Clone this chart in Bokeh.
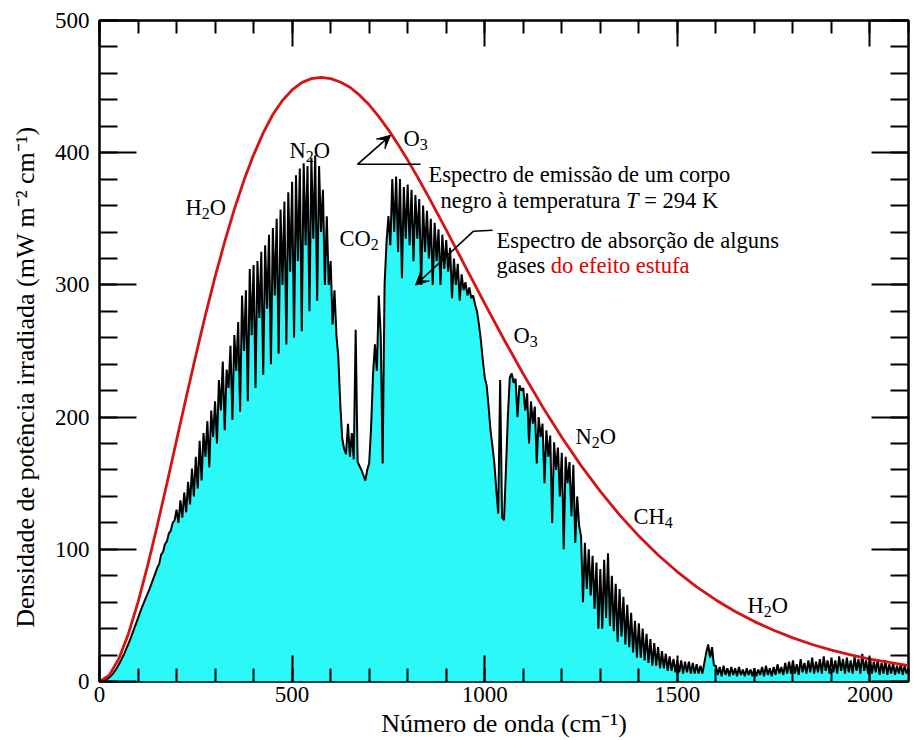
import math
from bokeh.plotting import figure
from bokeh.models import (Label, Arrow, VeeHead, LinearAxis, SingleIntervalTicker,
                          Range1d, ColumnDataSource)
from bokeh.embed import file_html
from bokeh.resources import INLINE

# ---------------- data ----------------
# measured (absorbed) outgoing spectrum, every 5 cm^-1 from 0 to 2100
spec_nu = list(range(0, 2105, 5))
spec_val = [
    0, 0.1, 0.5, 1.1, 2, 3, 4.3, 6, 8, 10.3, 12.8, 15.5, 18.5, 21.5, 25, 28.5, 32, 36, 40, 44,            # 0-95
    48, 52, 56, 59.5, 63, 66.5, 70, 74, 78, 82, 86, 89, 96, 98, 104, 106, 112, 114, 120, 122,           # 100-195
    130, 120, 137, 124, 143, 128, 151, 134, 161, 140, 170, 146, 182, 152, 188, 170, 197, 162, 205, 185, # 200-295
    212, 180, 228, 205, 242, 190, 236, 222, 254, 198, 262, 235, 272, 204, 292, 250, 296, 212, 312, 262, # 300-395
    315, 222, 318, 275, 325, 232, 330, 282, 338, 240, 343, 292, 350, 248, 357, 300, 363, 255, 370, 310, # 400-495
    378, 260, 383, 318, 388, 265, 392, 330, 390, 280, 396, 335, 398, 288, 390, 340, 372, 300, 352, 300, # 500-595
    318, 270, 296, 262, 245, 210, 184, 176, 172, 195, 170, 188, 168, 266, 166, 163, 160, 156, 152, 160, # 600-695
    165, 192, 232, 255, 235, 292, 262, 165, 300, 332, 352, 330, 380, 340, 382, 325, 380, 305, 374, 335, # 700-795
    376, 330, 372, 318, 368, 335, 365, 300, 360, 325, 356, 320, 350, 300, 347, 318, 342, 300, 338, 312, # 800-895
    334, 310, 328, 290, 320, 300, 316, 288, 308, 296, 302, 292, 298, 290, 292, 285, 280, 270, 258, 243, # 900-995
    230, 224, 208, 190, 178, 165, 145, 127, 228, 124, 122, 160, 200, 230, 233, 226, 229, 200, 224, 220, # 1000-1095
    222, 205, 218, 180, 212, 195, 208, 165, 200, 185, 195, 150, 190, 170, 186, 120, 181, 160, 177, 140, # 1100-1195
    173, 100, 170, 150, 166, 125, 164, 105, 140, 118, 110, 60, 105, 70, 100, 65, 95, 55, 90, 40,        # 1200-1295
    85, 40, 92, 48, 97, 42, 80, 38, 74, 30, 70, 34, 64, 28, 58, 26, 52, 22, 46, 18,                     # 1300-1395
    44, 18, 40, 16, 36, 14, 32, 12, 29, 12, 26, 10, 23, 10, 21, 8, 19, 8, 17, 7,                        # 1400-1495
    16, 7, 16, 6, 15, 7, 15, 6, 14, 6, 13, 6, 12, 6, 14, 22, 28, 18, 26, 12,                            # 1500-1595
    12, 5, 11, 4, 12, 5, 10, 4, 11, 5, 10, 4, 11, 5, 9, 4, 10, 5, 9, 4,                                 # 1600-1695
    10, 4, 9, 5, 11, 4, 12, 5, 10, 4, 11, 5, 13, 6, 11, 5, 14, 6, 15, 6,                                # 1700-1795
    16, 6, 13, 5, 17, 7, 14, 6, 16, 7, 18, 6, 15, 7, 17, 6, 19, 8, 16, 6,                               # 1800-1895
    18, 7, 16, 6, 19, 8, 17, 6, 18, 7, 16, 6, 19, 8, 17, 6, 21, 8, 16, 6,                               # 1900-1995
    18, 6, 15, 7, 17, 5, 14, 6, 16, 5, 13, 6, 14, 5, 12, 6, 13, 5, 12, 6, 10,                           # 2000-2100
]

# black-body emission curve (T = 294 K)
bb_nu = list(range(0, 1001, 25)) + list(range(1050, 2101, 50))
bb_val = [0, 4.6, 17.1, 36.0, 60.0, 87.6, 118.0, 149.8, 182.4, 214.8, 246.6, 277.2, 306.0,
          332.7, 357.2, 379.1, 398.4, 415.0, 428.9, 439.5, 447.5, 453.0, 456.0, 457.0,
          456.0, 453.5, 449.5, 443.5, 436.2, 427.3, 417.3, 406.3, 394.4, 381.9, 368.8,
          355.3, 341.6, 327.7, 313.7, 299.8, 285.8,
          258.7, 232.6, 207.9, 184.7, 163.3, 143.8, 126.0, 110.0, 95.7, 83.0, 71.6, 61.7,
          52.9, 45.3, 38.8, 33.0, 28.0, 23.8, 20.1, 17.0, 14.4, 12.0]

x_tick_interval = 500
y_tick_interval = 100
x_title = "Número de onda (cm⁻¹)"
y_title = "Densidade de potência irradiada (mW m⁻² cm⁻¹)" + "\u00a0" * 8

# ---------------- layout ----------------
W, H = 915, 740
FL, FR, FT, FB = 99, 908, 20, 682          # frame edges in pixels
X_END, Y_END = 2100, 500

def X(px):   # pixel -> data x
    return (px - FL) * X_END / (FR - FL)

def Y(py):   # pixel -> data y
    return (FB - py) * Y_END / (FB - FT)

p = figure(width=W, height=H, x_range=Range1d(0, X_END), y_range=Range1d(0, Y_END),
           output_backend="svg", toolbar_location=None,
           x_axis_location=None, y_axis_location=None,
           min_border_left=FL, min_border_right=W - FR,
           min_border_top=FT, min_border_bottom=H - FB)
p.grid.visible = False
p.outline_line_color = "black"
p.outline_line_width = 2.5
p.background_fill_color = "white"
p.border_fill_color = "white"

FONT = "Liberation Serif"

def style_axis(ax, major_in, minor_in, labels):
    ax.axis_line_color = None
    ax.major_tick_in = major_in
    ax.major_tick_out = 0
    ax.minor_tick_in = minor_in
    ax.minor_tick_out = 0
    ax.major_tick_line_width = 2
    ax.minor_tick_line_width = 2
    ax.major_tick_line_color = "black"
    ax.minor_tick_line_color = "black"
    if labels:
        ax.major_label_text_font = FONT
        ax.major_label_text_font_size = "23px"
        ax.major_label_text_color = "black"
        ax.axis_label_text_font = FONT
        ax.axis_label_text_font_size = "26px"
        ax.axis_label_text_font_style = "normal"
        ax.axis_label_text_color = "black"
    else:
        ax.major_label_text_font_size = "0px"
        ax.major_label_text_alpha = 0
        ax.major_label_standoff = 0

xt = SingleIntervalTicker(interval=x_tick_interval, num_minor_ticks=5)
yt = SingleIntervalTicker(interval=y_tick_interval, num_minor_ticks=5)

ax_b = LinearAxis(ticker=xt, axis_label=x_title)
style_axis(ax_b, 26, 13, True)
ax_b.major_label_standoff = 5
ax_b.axis_label_standoff = 4
ax_t = LinearAxis(ticker=xt); style_axis(ax_t, 26, 13, False)
ax_l = LinearAxis(ticker=yt, axis_label=y_title)
style_axis(ax_l, 37, 18, True)
ax_l.major_label_standoff = 10
ax_l.axis_label_standoff = 12
ax_r = LinearAxis(ticker=yt); style_axis(ax_r, 37, 18, False)
p.add_layout(ax_b, "below")
p.add_layout(ax_t, "above")
p.add_layout(ax_l, "left")
p.add_layout(ax_r, "right")

src = ColumnDataSource(dict(nu=spec_nu, val=spec_val))
p.varea(x="nu", y1=0, y2="val", source=src, fill_color="#2cf8f8")
p.line("nu", "val", source=src, line_color="black", line_width=2.0)
p.line(bb_nu, bb_val, line_color="#d41414", line_width=2.8)

# ---------------- text helpers (Times metrics) ----------------
TW = {' ': 250, '\u00a0': 250, '(': 333, ')': 333, '-': 333, '=': 564, '.': 250,
      'A': 722, 'C': 667, 'D': 722, 'E': 611, 'H': 722, 'K': 722, 'N': 722, 'O': 722,
      'T': 611, 'W': 944,
      'a': 444, 'b': 500, 'c': 444, 'd': 500, 'e': 444, 'f': 333, 'g': 500, 'h': 500,
      'i': 278, 'l': 278, 'm': 778, 'n': 500, 'o': 500, 'p': 500, 'r': 333, 's': 389,
      't': 278, 'u': 500, 'à': 444, 'ã': 444, 'ç': 444, 'ê': 444, 'ú': 500}

def width(s, size, style):
    if style == "italic" and s == "T":
        return 556 * size / 1000
    return sum(TW.get(c, 500) for c in s) * size / 1000

def rich(pieces, px, py):
    """pieces: (text, size, shift, color, style); placed from (px, py) baseline-left."""
    off = 0.0
    for text, size, shift, color, style in pieces:
        lab = Label(x=X(px), y=Y(py), text=text, text_font=FONT,
                    text_font_size=f"{size}px", text_color=color, text_font_style=style,
                    text_align="left", text_baseline="alphabetic",
                    x_offset=off, y_offset=shift)
        p.add_layout(lab)
        off += width(text, size, style)

S, SS = 22.5, 16   # main / subscript sizes

def chem(parts, px, py):
    pieces = []
    for t in parts:
        if t.isdigit():
            pieces.append((t, SS, -6, "black", "normal"))
        else:
            pieces.append((t, S, 0, "black", "normal"))
    rich(pieces, px, py)

chem(["H", "2", "O"], 185, 207)
chem(["N", "2", "O"], 289, 150)
chem(["CO", "2"], 339, 238)
chem(["O", "3"], 403, 138)
chem(["O", "3"], 513, 335)
chem(["N", "2", "O"], 575, 437)
chem(["CH", "4"], 633, 517)
chem(["H", "2", "O"], 747, 606)

rich([("Espectro de emissão de um corpo", S, 0, "black", "normal")], 428, 174)
rich([("negro à temperatura ", S, 0, "black", "normal"),
      ("T", S, 0, "black", "italic"),
      ("\u00a0= 294 K", S, 0, "black", "normal")], 440, 200)
rich([("Espectro de absorção de alguns", S, 0, "black", "normal")], 496, 240)
rich([("gases ", S, 0, "black", "normal"),
      ("do efeito estufa", S, 0, "#e00000", "normal")], 496, 265)

# arrows
p.line([X(420), X(357)], [Y(164), Y(164)], line_color="black", line_width=1.6)
p.add_layout(Arrow(x_start=X(357), y_start=Y(164), x_end=X(390), y_end=Y(135),
                   line_width=1.6, line_color="black",
                   end=VeeHead(size=13, fill_color="black", line_color="black")))
p.line([X(492), X(473)], [Y(230), Y(231)], line_color="black", line_width=1.6)
p.add_layout(Arrow(x_start=X(473), y_start=Y(231), x_end=X(415), y_end=Y(285),
                   line_width=1.6, line_color="black",
                   end=VeeHead(size=13, fill_color="black", line_color="black")))

open("out.html", "w").write(file_html(p, INLINE))
